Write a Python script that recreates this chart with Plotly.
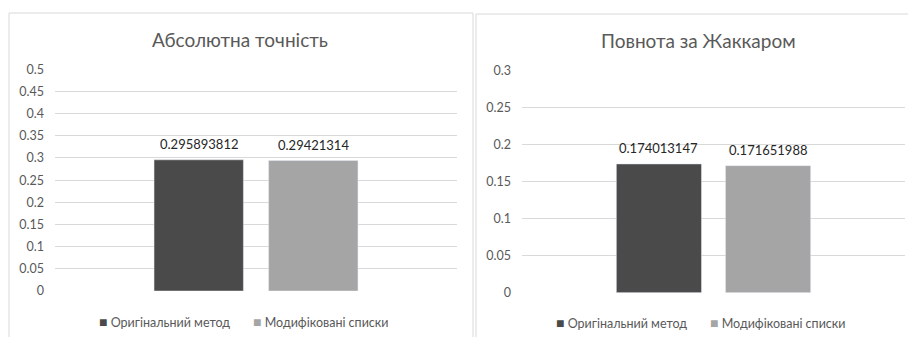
import plotly.graph_objects as go

# Series names and values
series_names = ["Оригінальний метод", "Модифіковані списки"]
series_colors = ["#4a4a4a", "#a5a5a5"]

accuracy_title = "Абсолютна точність"
accuracy_values = [0.295893812, 0.29421314]
accuracy_ticks = [0, 0.05, 0.1, 0.15, 0.2, 0.25, 0.3, 0.35, 0.4, 0.45, 0.5]

jaccard_title = "Повнота за Жаккаром"
jaccard_values = [0.174013147, 0.171651988]
jaccard_ticks = [0, 0.05, 0.1, 0.15, 0.2, 0.25, 0.3]

W, H = 908, 337
FONT = "Lato"
GRID = "#d9d9d9"
TEXT = "#595959"
BARGAP = 0.43
GROUPGAP = 0.22


def px(x):
    return x / W


def py(y):
    return 1 - y / H


fig = go.Figure()

# offsets of each bar centre inside the single category slot
slot = (1 - BARGAP) / len(series_names)
offsets = [-(1 - BARGAP) / 2 + slot * (i + 0.5) for i in range(len(series_names))]

for vals, xa, ya in [(accuracy_values, "x", "y"), (jaccard_values, "x2", "y2")]:
    for name, val, col, off in zip(series_names, vals, series_colors, offsets):
        fig.add_trace(go.Bar(
            x=[0], y=[val], name=name, marker_color=col,
            xaxis=xa, yaxis=ya, showlegend=False,
        ))
        # data label above the bar
        fig.add_annotation(
            text=f"{val}", x=off, y=val, xref=xa, yref=ya,
            xanchor="center", yanchor="bottom", yshift=6, showarrow=False,
            font=dict(family=FONT, size=13, color="#262626"))

axis_common = dict(showgrid=True, gridcolor=GRID, gridwidth=1, zeroline=False,
                   showline=False, ticks="", automargin=False,
                   tickfont=dict(family=FONT, size=12.5, color=TEXT),
                   fixedrange=True)
xaxis_common = dict(showticklabels=False, showgrid=False, zeroline=False,
                    showline=False, ticks="", automargin=False, fixedrange=True,
                    range=[-0.5, 0.5])

fig.update_layout(
    width=W, height=H,
    margin=dict(l=0, r=0, t=0, b=0, autoexpand=False),
    paper_bgcolor="white", plot_bgcolor="white",
    barmode="group", bargap=BARGAP, bargroupgap=GROUPGAP,
    font=dict(family=FONT, color=TEXT),
    xaxis=dict(domain=[px(55), px(457)], **xaxis_common),
    yaxis=dict(domain=[py(291), py(69.3)], range=[0, 0.5], tickvals=accuracy_ticks,
               ticklabelstandoff=10, **axis_common),
    xaxis2=dict(domain=[px(522), px(905)], **xaxis_common),
    yaxis2=dict(domain=[py(292.7), py(70.7)], range=[0, 0.3], tickvals=jaccard_ticks,
                ticklabelstandoff=10, anchor="x2", **axis_common),
)

# Chart frames
fig.add_shape(type="rect", xref="paper", yref="paper",
              x0=px(9), x1=px(473), y0=-0.2, y1=py(13),
              line=dict(color=GRID, width=1), fillcolor="rgba(0,0,0,0)", layer="below")
fig.add_shape(type="rect", xref="paper", yref="paper",
              x0=px(476), x1=1.2, y0=-0.2, y1=py(14),
              line=dict(color=GRID, width=1), fillcolor="rgba(0,0,0,0)", layer="below")

# Titles
for title, xc, yc in [(accuracy_title, 240, 39), (jaccard_title, 698, 41)]:
    fig.add_annotation(text=title, x=px(xc), y=py(yc), xref="paper", yref="paper",
                       xanchor="center", yanchor="middle",
                       showarrow=False, font=dict(family=FONT, size=19, color=TEXT))


# Legends
def legend_row(x_start, x_second, y):
    for xs, name, col in zip([x_start, x_second], series_names, series_colors):
        fig.add_annotation(
            text=f"<span style='color:{col};font-size:14px'>■</span> {name}",
            x=px(xs), y=py(y), xref="paper", yref="paper",
            xanchor="left", yanchor="middle",
            showarrow=False, font=dict(family=FONT, size=12.5, color=TEXT))


legend_row(97, 251, 321)
legend_row(554, 708, 322)

fig.write_html("out.html")
